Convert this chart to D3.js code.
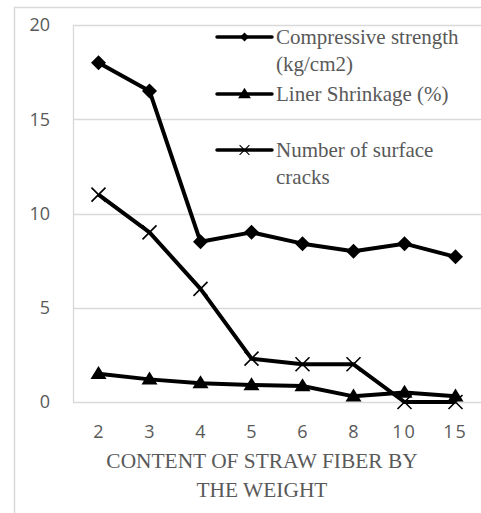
<!DOCTYPE html>
<html><head><meta charset="utf-8">
<script src="https://cdn.jsdelivr.net/npm/d3@7/dist/d3.min.js"></script>
<style>body{margin:0;background:#fff}svg{display:block}</style>
</head><body>
<script>
const categories = ["2","3","4","5","6","8","10","15"];
const compressive = [18.0, 16.5, 8.5, 9.0, 8.4, 8.0, 8.4, 7.7];
const shrinkage = [1.5, 1.2, 1.0, 0.9, 0.85, 0.3, 0.5, 0.3];
const cracks = [11, 9, 6, 2.3, 2, 2, 0, 0];
const yTicks = [0, 5, 10, 15, 20];
const seriesNames = ["Compressive strength (kg/cm2)", "Liner Shrinkage (%)", "Number of surface cracks"];

const W = 481, H = 513;
const svg = d3.select("body").append("svg").attr("width", W).attr("height", H);
svg.append("rect").attr("x", 14.5).attr("y", 7.5).attr("width", W + 10).attr("height", H + 10)
  .attr("fill", "#fff").attr("stroke", "#d9d9d9").attr("stroke-width", 1.5);

const x = d3.scaleBand().domain(categories).range([73, 481]);
const y = d3.scaleLinear().domain([0, 20]).range([402, 25]);

// gridlines
svg.append("g").selectAll("line").data(yTicks).join("line")
  .attr("x1", 73).attr("x2", 481).attr("y1", d => Math.round(y(d)) + 0.5).attr("y2", d => Math.round(y(d)) + 0.5)
  .attr("stroke", "#d9d9d9").attr("stroke-width", 1.3);
svg.append("line").attr("x1", 73.5).attr("x2", 73.5).attr("y1", y(20)).attr("y2", y(0))
  .attr("stroke", "#d9d9d9").attr("stroke-width", 1.3);

// y tick labels
const tickFont = "'Open Sans', sans-serif";
svg.append("g").selectAll("text").data(yTicks).join("text")
  .attr("x", 50).attr("y", d => y(d)).attr("dy", "0.36em").attr("text-anchor", "end")
  .attr("font-family", tickFont).attr("font-size", 18).attr("fill", "#595959").text(d => d);
// x tick labels
svg.append("g").selectAll("text").data(categories).join("text")
  .attr("x", d => x(d) + x.bandwidth() / 2).attr("y", 432).attr("dy", "0.36em").attr("text-anchor", "middle")
  .attr("font-family", tickFont).attr("font-size", 18).attr("letter-spacing", d => d.length > 1 ? 2 : 0)
  .attr("fill", "#595959").text(d => d);

// axis title
const serif = "'Liberation Serif', 'Times New Roman', serif";
const title = svg.append("text").attr("text-anchor", "middle").attr("font-family", serif)
  .attr("font-size", 21.4).attr("fill", "#595959");
title.append("tspan").attr("x", 262).attr("y", 468).text("CONTENT OF STRAW FIBER BY");
title.append("tspan").attr("x", 262).attr("y", 497).text("THE WEIGHT");

const cx = d => x(d) + x.bandwidth() / 2;
const line = d3.line().x(d => cx(d[0])).y(d => y(d[1]));

function drawSeries(vals, marker) {
  const pts = categories.map((c, i) => [c, vals[i]]);
  svg.append("path").attr("d", line(pts)).attr("fill", "none").attr("stroke", "#000")
    .attr("stroke-width", 4).attr("stroke-linejoin", "round");
  const g = svg.append("g");
  pts.forEach(p => marker(g, cx(p[0]), y(p[1]), 1));
}
function diamond(g, px, py, s) {
  const r = 7.5 * s;
  g.append("path").attr("d", `M${px},${py - r}L${px + r},${py}L${px},${py + r}L${px - r},${py}Z`).attr("fill", "#000");
}
function triangle(g, px, py, s) {
  const w = 8 * s, h = 13 * s;
  g.append("path").attr("d", `M${px},${py - h * 0.6}L${px + w},${py + h * 0.4}L${px - w},${py + h * 0.4}Z`).attr("fill", "#000");
}
function cross(g, px, py, s) {
  const r = 7 * s;
  g.append("path").attr("d", `M${px - r},${py - r}L${px + r},${py + r}M${px - r},${py + r}L${px + r},${py - r}`)
    .attr("stroke", "#000").attr("stroke-width", 1.6 * s).attr("fill", "none");
}

drawSeries(cracks, cross);
drawSeries(shrinkage, triangle);
drawSeries(compressive, diamond);

// legend
const legend = [
  {lines: ["Compressive strength", "(kg/cm2)"], y: 37, marker: diamond, s: 0.6},
  {lines: ["Liner Shrinkage (%)"], y: 94, marker: triangle, s: 0.8},
  {lines: ["Number of surface", "cracks"], y: 150, marker: cross, s: 0.7}
];
legend.forEach((e, i) => {
  const g = svg.append("g");
  g.append("line").attr("x1", 217).attr("x2", 272).attr("y1", e.y).attr("y2", e.y)
    .attr("stroke", "#000").attr("stroke-width", 3.5).attr("stroke-linecap", "round");
  e.marker(g, 244.5, e.y, e.s);
  const t = g.append("text").attr("font-family", serif).attr("font-size", 21).attr("fill", "#595959");
  e.lines.forEach((l, j) => t.append("tspan").attr("x", 276).attr("y", e.y + 7 + j * 27).text(l));
});
</script>
</body></html>
